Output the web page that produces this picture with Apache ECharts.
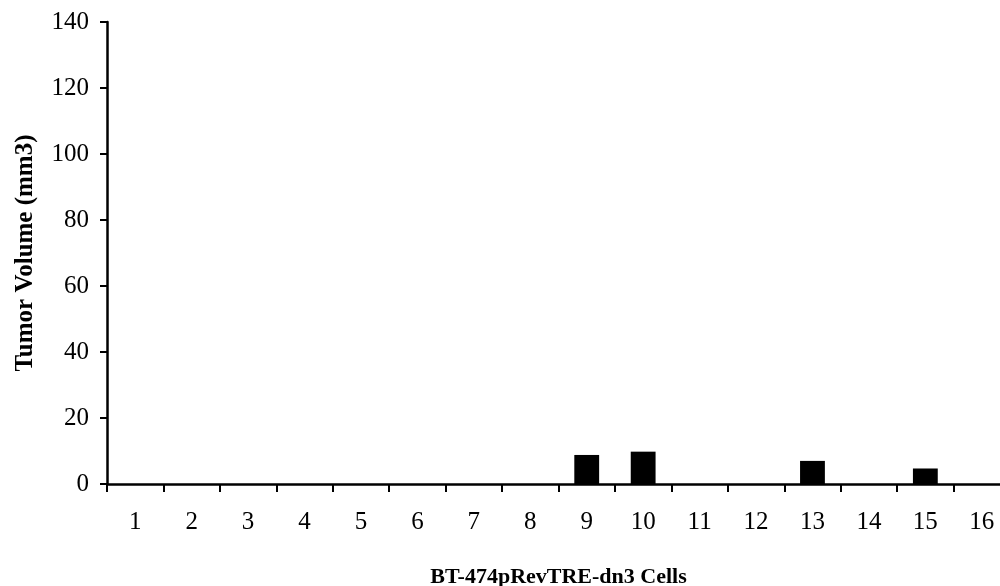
<!DOCTYPE html>
<html><head><meta charset="utf-8">
<script src="https://cdn.jsdelivr.net/npm/echarts@6/dist/echarts.min.js"></script>
<style>html,body{margin:0;padding:0;background:#fff;overflow:hidden}#c{width:1000px;height:586px}</style>
</head><body><div id="c"></div>
<script>
const categories = ['1','2','3','4','5','6','7','8','9','10','11','12','13','14','15','16'];
const tumorVolume = [0,0,0,0,0,0,0,0,8.8,9.8,0,0,7.0,0,4.7,0];
const yTicks = [0,20,40,60,80,100,120,140];

const chart = echarts.init(document.getElementById('c'));
const font = 'Liberation Serif';
chart.setOption({
  animation: false,
  grid: {left: 107, width: 903, top: 22, height: 462, containLabel: false, outerBoundsMode: 'none'},
  xAxis: {
    type: 'category', data: categories,
    name: 'BT-474pRevTRE-dn3 Cells', nameLocation: 'middle', nameGap: 82,
    nameTextStyle: {fontFamily: font, fontWeight: 'bold', fontSize: 22, color: '#000'},
    axisLine: {lineStyle: {color: '#000', width: 2.5}},
    axisTick: {show: true, alignWithLabel: false, length: 8, lineStyle: {color: '#000', width: 2}},
    axisLabel: {fontFamily: font, fontSize: 25, color: '#000', margin: 26}
  },
  yAxis: {
    type: 'value', min: 0, max: 140, interval: 20,
    name: 'Tumor Volume (mm3)', nameLocation: 'middle', nameGap: 69,
    nameTextStyle: {fontFamily: font, fontWeight: 'bold', fontSize: 25, color: '#000'},
    axisLine: {show: true, lineStyle: {color: '#000', width: 2.5}},
    axisTick: {show: true, length: 7, lineStyle: {color: '#000', width: 2}},
    splitLine: {show: false},
    axisLabel: {fontFamily: font, fontSize: 25, color: '#000', margin: 18,
      formatter: v => yTicks.includes(v) ? String(v) : ''}
  },
  series: [{
    type: 'bar', data: tumorVolume, barWidth: '44%',
    itemStyle: {color: '#000'}
  }]
});
</script></body></html>
